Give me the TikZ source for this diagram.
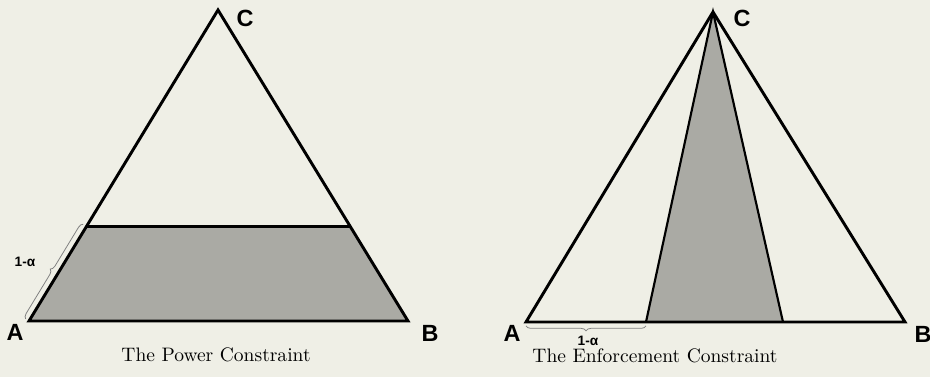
\documentclass[tikz,border=0pt]{standalone}
\usepackage{fontspec}
\newfontfamily\vertfont{Liberation Sans}
\usetikzlibrary{calc,decorations.pathreplacing}
\definecolor{paper}{RGB}{239,239,230}
\definecolor{areagrey}{RGB}{170,170,164}

\begin{document}
\begin{tikzpicture}[x=0.018cm,y=-0.018cm,
        edge/.style={line width=1.5pt},
        vlabel/.style={font=\vertfont\bfseries\large},
        alabel/.style={font=\vertfont\bfseries\scriptsize},
        bracket/.style={gray,thin,decorate,decoration={brace,amplitude=2.5pt,raise=2pt}}]
        \useasboundingbox[fill=paper] (0,0) rectangle (930,377);

        % Coordinates
        \coordinate (lA) at (29,321);
        \coordinate (lB) at (408,321);
        \coordinate (lC) at (218,10);
        \coordinate (lP) at ($(lA)!0.305!(lC)$);
        \coordinate (lQ) at ($(lB)!0.305!(lC)$);
        \coordinate (rA) at (526,322);
        \coordinate (rB) at (905,322);
        \coordinate (rC) at (713,12);
        \coordinate (rP) at (646,322);
        \coordinate (rQ) at (783,322);

        % Drawing
        \fill[areagrey] (lA) -- (lB) -- (lQ) -- (lP) -- cycle;
        \draw[edge] (lA) -- (lB) -- (lC) -- cycle;
        \draw[edge] (lP) -- (lQ);
        \fill[areagrey] (rP) -- (rQ) -- (rC) -- cycle;
        \draw[line width=1.1pt] (rP) -- (rC) -- (rQ);
        \draw[edge] (rA) -- (rB) -- (rC) -- cycle;
        \draw[bracket] (lA) -- (lP);
        \draw[bracket,decoration={mirror}] (rA) -- (rP);

        \node[vlabel] (lAl) at (15,332) {A};
        \node[vlabel] (lBl) at (430,333) {B};
        \node[vlabel] (lCl) at (245,18) {C};
        \node[vlabel] (rAl) at (512,333) {A};
        \node[vlabel] (rBl) at (923,334) {B};
        \node[vlabel] (rCl) at (742,18) {C};
        \node[alabel] (la) at (25,262) {1-α};
        \node[alabel] (ra) at (588,341) {1-α};
        \node (lcap) at (216,355) {The Power Constraint};
        \node (rcap) at (655,356) {The Enforcement Constraint};
\end{tikzpicture}
\end{document}
